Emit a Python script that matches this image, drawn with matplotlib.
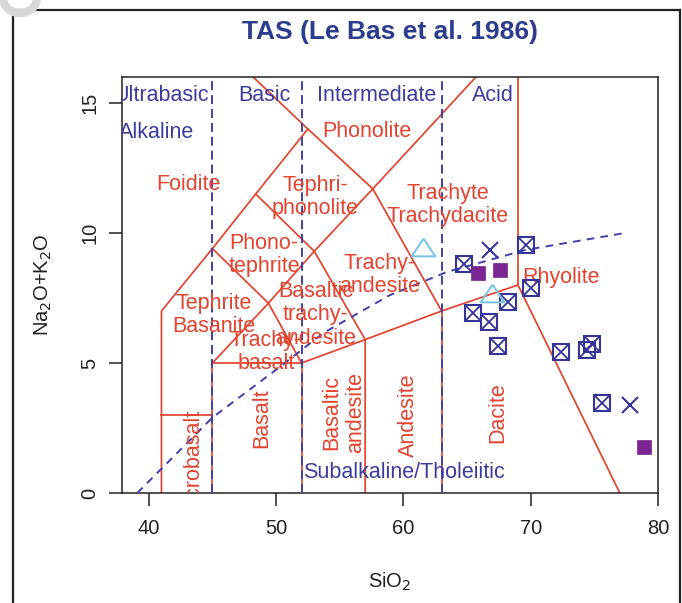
import matplotlib
matplotlib.use('Agg')
import matplotlib.pyplot as plt
from matplotlib.patches import Rectangle, Circle

plt.rcParams['font.family'] = ['Liberation Sans', 'DejaVu Sans']
plt.rcParams['lines.scale_dashes'] = False

# ---------------- data ----------------
# TAS field boundaries (Le Bas et al. 1986), red solid lines
bnd_foidite_x = [41, 41, 45, 48.4, 52.5, 48.2]
bnd_foidite_y = [0, 7, 9.4, 11.5, 14, 16]
bnd_picro_x = [41, 45]
bnd_picro_y = [3, 3]
bnd_basalt_x = [45, 45, 52, 52]
bnd_basalt_y = [0, 5, 5, 0]
bnd_trbas_x = [45, 49.4, 52]
bnd_trbas_y = [5, 7.3, 5]
bnd_mid_x = [45, 49.4, 53, 57.6, 63]
bnd_mid_y = [9.4, 7.3, 9.3, 11.7, 7]
bnd_bta_x = [48.4, 53, 57, 57]
bnd_bta_y = [11.5, 9.3, 5.9, 0]
bnd_phon_x = [52.5, 57.6, 65.7]
bnd_phon_y = [14, 11.7, 16]
bnd_sub_x = [52, 57, 63, 69, 77]
bnd_sub_y = [5, 5.9, 7, 8, 0]
bnd_and_x = [63, 63]
bnd_and_y = [0, 7]
bnd_rhy_x = [69, 69]
bnd_rhy_y = [8, 16]

red_boundaries = [
    (bnd_foidite_x, bnd_foidite_y), (bnd_picro_x, bnd_picro_y),
    (bnd_basalt_x, bnd_basalt_y), (bnd_trbas_x, bnd_trbas_y),
    (bnd_mid_x, bnd_mid_y), (bnd_bta_x, bnd_bta_y),
    (bnd_phon_x, bnd_phon_y), (bnd_sub_x, bnd_sub_y),
    (bnd_and_x, bnd_and_y), (bnd_rhy_x, bnd_rhy_y),
]

# silica class dividers (blue dashed)
silica_div = [45, 52, 63]

# alkaline / subalkaline divider
alk_x = [39.1, 45, 50.3, 53.7, 58.9, 63.4, 69.6, 77.4]
alk_y = [0, 2.9, 4.85, 6.15, 7.6, 8.5, 9.35, 10.0]

# samples
sq_x_x = [64.8, 69.6, 70.0, 68.2, 65.5, 66.7, 67.4, 72.4, 74.4, 74.8, 75.6]
sq_x_y = [8.8, 9.54, 7.88, 7.35, 6.92, 6.58, 5.65, 5.42, 5.5, 5.73, 3.46]
cross_x = [66.8, 77.8]
cross_y = [9.35, 3.38]
purple_x = [65.9, 67.6, 78.9]
purple_y = [8.46, 8.58, 1.77]
tri_x = [61.55, 67.0]
tri_y = [9.46, 7.7]

# field names (red)
field_names = ["Foidite", "Phonolite", "Tephri-\nphonolite", "Phono-\ntephrite",
               "Trachyte\nTrachydacite", "Trachy-\nandesite",
               "Basaltic\ntrachy-\nandesite", "Tephrite\nBasanite",
               "Trachy-\nbasalt", "Rhyolite"]
field_x = [43.1, 57.1, 53.05, 49.05, 63.5, 58.1, 53.1, 45.1, 49.2, 72.4]
field_y = [11.85, 13.9, 11.38, 9.15, 11.08, 8.38, 6.85, 6.85, 5.42, 8.27]

vfield_names = ["Picrobasalt", "Basalt", "Basaltic\nandesite", "Andesite", "Dacite"]
vfield_x = [43.45, 48.9, 55.3, 60.4, 67.4]
vfield_y = [1.21, 2.88, 3.08, 3.0, 3.08]

class_names = ["Ultrabasic", "Basic", "Intermediate", "Acid", "Alkaline",
               "Subalkaline/Tholeiitic"]
class_x = [41.0, 49.1, 57.9, 67.0, 40.6, 60.05]
class_y = [15.3, 15.3, 15.3, 15.3, 13.85, 0.8]

x_ticks = [40, 50, 60, 70, 80]
y_ticks = [0, 5, 10, 15]

# ---------------- style ----------------
RED = '#E4432F'
BLUE_TXT = '#3C3C9E'
BLUE_LN = '#4040AA'
NAVY = '#34349A'
PURPLE = '#7A2592'
LBLUE = '#7CC4E6'
FS = 15.5

W, H = 682, 603
fig = plt.figure(figsize=(W / 100, H / 100), dpi=100)
fig.patch.set_facecolor('white')

L, R, T, B = 122, 658, 77, 493
ax = fig.add_axes([L / W, 1 - B / H, (R - L) / W, (B - T) / H])
ax.set_xlim(37.9, 80)
ax.set_ylim(0, 16)

for bx, by in red_boundaries:
    ax.plot(bx, by, color=RED, lw=1.25, zorder=2)

for sx in silica_div:
    ax.plot([sx, sx], [0, 16], color=BLUE_LN, lw=1.4, dashes=(6.5, 3.5), zorder=3)

ax.plot(alk_x, alk_y, color=BLUE_LN, lw=1.4, dashes=(5.5, 4.5), zorder=3)

for name, x, y in zip(field_names, field_x, field_y):
    ax.text(x, y, name, color=RED, fontsize=FS, ha='center', va='center',
            multialignment='center', linespacing=1.15, zorder=4)
for name, x, y in zip(vfield_names, vfield_x, vfield_y):
    ax.text(x, y, name, color=RED, fontsize=FS, ha='center', va='center',
            rotation=90, multialignment='center', linespacing=1.15, zorder=4,
            clip_on=True)
for name, x, y in zip(class_names, class_x, class_y):
    ax.text(x, y, name, color=BLUE_TXT, fontsize=FS, ha='center', va='center',
            zorder=4, clip_on=True)

# markers
ax.plot(sq_x_x, sq_x_y, ls='none', marker='s', ms=11, mfc='none', mec=NAVY,
        mew=1.5, zorder=5)
ax.plot(sq_x_x, sq_x_y, ls='none', marker='x', ms=11, mec=NAVY, mew=1.3, zorder=5)
ax.plot(cross_x, cross_y, ls='none', marker='x', ms=12, mec=NAVY, mew=1.5, zorder=5)
ax.plot(purple_x, purple_y, ls='none', marker='s', ms=10.5, mfc=PURPLE, mec=PURPLE,
        mew=0.5, zorder=5)
tri = [(0, 0.75), (-1, -0.75), (1, -0.75), (0, 0.75)]
ax.plot(tri_x, tri_y, ls='none', marker=tri, ms=17, mfc='none', mec=LBLUE,
        mew=1.5, zorder=5)

# axes styling
for sp in ax.spines.values():
    sp.set_linewidth(1.1)
    sp.set_color('#222222')
ax.set_xticks(x_ticks)
ax.set_yticks(y_ticks)
ax.set_xticklabels([str(v) for v in x_ticks])
ax.set_yticklabels([str(v) for v in y_ticks], rotation=90, va='center')
ax.tick_params(direction='out', length=9.4, width=1.1, labelsize=14.5,
               colors='#222222', pad=9)
ax.tick_params(axis='y', pad=7)

ax.set_xlabel('SiO$_2$', fontsize=14.5, labelpad=24, color='#222222')
ax.set_ylabel('Na$_2$O+K$_2$O', fontsize=14.5, labelpad=19, color='#222222')

fig.text(390 / W, 1 - 32 / H, 'TAS (Le Bas et al. 1986)', fontsize=19,
         fontweight='bold', color='#2E3C8E', ha='center', va='center')

# outer frame and decorative ring
fig.add_artist(Rectangle((13 / W, -0.05), (680 - 13) / W, 1 - 10 / H + 0.05,
                         transform=fig.transFigure, fill=False, lw=1.6,
                         edgecolor='#222222'))
fig.add_artist(Circle((20 / W, 1 + 2 / H), 17 / W, transform=fig.transFigure,
                      fill=False, lw=6, edgecolor='#D8D8D8'))

fig.savefig('out.png', dpi=100)
